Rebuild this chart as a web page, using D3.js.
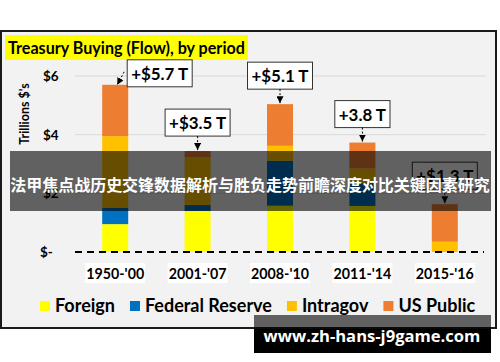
<!DOCTYPE html>
<html>
<head>
<meta charset="utf-8">
<script src="https://cdn.jsdelivr.net/npm/d3@7"></script>
<style>
  body { margin: 0; background: #fff; }
  text { font-family: Lato, "Open Sans", sans-serif; font-weight: bold; }
</style>
</head>
<body>
<script>
// data (trillions of $)
const periods = ["1950-'00", "2001-'07", "2008-'10", "2011-'14", "2015-'16"]
const foreign = [0.95, 1.40, 1.58, 1.57, 0]
const fedReserve = [0.55, 0.20, 1.53, 0.78, 0]
const intragov = [2.45, 1.64, 0.51, 0.50, 0.35]
const usPublic = [1.75, 0.20, 1.42, 0.88, 1.28]
const callouts = ["+$5.7 T", "+$3.5 T", "+$5.1 T", "+3.8 T", "+$1.3 T"]
const yTicks = [0, 2, 4, 6]
const seriesNames = ["Foreign", "Federal Reserve", "Intragov", "US Public"]
const colors = ["#ffff00", "#0070c0", "#ffc000", "#ed7d31"]

const W = 500, H = 362

const svg = d3.select("body").append("svg")
    .attr("width", W)
    .attr("height", H)

// fit a text node to a width by scaling its font-size
function fit(sel, w) {
    const n = sel.node()
    const fs = parseFloat(sel.style("font-size"))
    sel.style("font-size", (fs * w / n.getComputedTextLength()) + "px")
    return sel
}

// frame
svg.append("rect")
    .attr("x", 1).attr("y", 31).attr("width", 495).attr("height", 297)
    .attr("fill", "#f2f2f2").attr("stroke", "#1a1a1a").attr("stroke-width", 2)

svg.append("rect")
    .attr("x", 5).attr("y", 35).attr("width", 243).attr("height", 25)
    .attr("fill", "#ffff00")
fit(svg.append("text").attr("x", 8).attr("y", 54).style("font-size", "16px")
    .text("Treasury Buying (Flow), by period"), 237)

const y = d3.scaleLinear().domain([0, 6]).range([252, 76])
const x = d3.scaleBand().domain(periods).range([74, 486]).padding(0)
const bw = 26

// gridlines
svg.selectAll(".grid")
    .data(yTicks.filter(d => d > 0))
    .enter().append("line")
    .attr("x1", 75).attr("x2", 486)
    .attr("y1", d => y(d)).attr("y2", d => y(d))
    .attr("stroke", "#d9d9d9").attr("stroke-width", 1)

svg.selectAll(".ytick")
    .data(yTicks)
    .enter().append("text")
    .attr("x", d => d == 0 ? 40 : 43)
    .attr("y", d => y(d) + 5)
    .style("font-size", "13.5px")
    .text(d => d == 0 ? "$-" : "$" + d)

svg.append("text")
    .attr("transform", "translate(29,114) rotate(-90)")
    .attr("text-anchor", "middle")
    .style("font-size", "12.5px")
    .text("Trillions $'s")

// stacked bars
const rows = periods.map((p, i) => ({
    period: p, "Foreign": foreign[i], "Federal Reserve": fedReserve[i],
    "Intragov": intragov[i], "US Public": usPublic[i]
}))
const stack = d3.stack().keys(seriesNames)(rows)

svg.selectAll(".layer")
    .data(stack)
    .enter().append("g")
    .attr("fill", (d, i) => colors[i])
    .selectAll("rect")
    .data(d => d)
    .enter().append("rect")
    .attr("x", d => x(d.data.period) + x.bandwidth() / 2 - bw / 2)
    .attr("width", bw)
    .attr("y", d => y(d[1]))
    .attr("height", d => y(d[0]) - y(d[1]))

// zero line
svg.append("line")
    .attr("x1", 75).attr("x2", 484)
    .attr("y1", y(0)).attr("y2", y(0))
    .attr("stroke", "#000").attr("stroke-width", 2)
    .attr("stroke-dasharray", "7,5")

// category labels with white boxes
const cat = svg.selectAll(".cat")
    .data(periods)
    .enter().append("g")
    .attr("transform", d => "translate(" + (x(d) + x.bandwidth() / 2) + ",0)")
cat.append("rect")
    .attr("x", -30).attr("y", 263).attr("width", 60).attr("height", 20)
    .attr("fill", "#fff")
const catText = cat.append("text")
    .attr("y", 279)
    .attr("text-anchor", "middle")
    .style("font-size", "14.5px")
    .text(d => d)
const catSize = 14.5 * 58 / catText.node().getComputedTextLength()
catText.style("font-size", catSize + "px")

// callouts
svg.append("defs").append("marker")
    .attr("id", "arr")
    .attr("viewBox", "0 0 10 10")
    .attr("refX", 10).attr("refY", 5)
    .attr("markerWidth", 7).attr("markerHeight", 7)
    .attr("orient", "auto")
    .append("path").attr("d", "M0,0L10,5L0,10Z").attr("fill", "#000")

const totals = rows.map(r => seriesNames.reduce((s, k) => s + r[k], 0))

let calloutSize = null
callouts.forEach((lab, i) => {
    const cx = x(periods[i]) + x.bandwidth() / 2
    const top = y(totals[i])
    const g = svg.append("g")
    const t = g.append("text")
        .attr("text-anchor", "middle")
        .style("font-size", "17px")
        .text(lab)
    if (calloutSize == null) calloutSize = 17 * 57 / t.node().getComputedTextLength()
    t.style("font-size", calloutSize + "px")
    const tw = t.node().getComputedTextLength()
    const bwid = tw + 8, bh = 27
    let bx, by
    if (i == 0) {
        bx = cx + 12; by = top - 25
    } else {
        bx = cx - bwid / 2; by = top - 15 - bh
    }
    g.insert("rect", "text")
        .attr("x", bx).attr("y", by).attr("width", bwid).attr("height", bh)
        .attr("fill", "#fff").attr("stroke", "#333").attr("stroke-width", 1)
    t.attr("x", bx + bwid / 2).attr("y", by + 20)
    let x1 = bx + bwid / 2, y1 = by + bh, x2 = cx, y2 = top - 1
    if (i == 0) { x1 = bx - 3; y1 = by + 12; x2 = cx + 2; y2 = top }
    g.append("line")
        .attr("x1", x1).attr("y1", y1).attr("x2", x2).attr("y2", y2)
        .attr("stroke", "#000").attr("stroke-width", 1)
        .attr("stroke-dasharray", "2,2")
        .attr("marker-end", "url(#arr)")
})

// legend: font sized so that "Federal Reserve" takes ~127px
let lx = 40
let legSize = null
seriesNames.forEach((name, i) => {
    svg.append("rect")
        .attr("x", lx).attr("y", 301).attr("width", 10).attr("height", 10)
        .attr("fill", colors[i])
    const t = svg.append("text")
        .attr("x", lx + 15).attr("y", 312)
        .style("font-size", "15.5px")
        .text(name)
    if (legSize == null) {
        const probe = svg.append("text").style("font-size", "15.5px").text(seriesNames[1])
        legSize = 15.5 * 127 / probe.node().getComputedTextLength()
        probe.remove()
    }
    t.style("font-size", legSize + "px")
    lx += 15 + t.node().getComputedTextLength() + 15
})

// overlay banner
svg.append("rect")
    .attr("x", 10).attr("y", 151).attr("width", 481).attr("height", 60)
    .attr("fill", "#000").attr("opacity", 0.6)
fit(svg.append("text")
    .attr("x", 250).attr("y", 184)
    .attr("text-anchor", "middle")
    .attr("dominant-baseline", "central")
    .attr("fill", "#fff")
    .style("font-family", "'Noto Sans CJK SC', sans-serif")
    .style("font-size", "16px")
    .text("法甲焦点战历史交锋数据解析与胜负走势前瞻深度对比关键因素研究"), 480)

// watermark
svg.append("rect")
    .attr("x", 254).attr("y", 315).attr("width", 237).attr("height", 38)
    .attr("fill", "#000").attr("opacity", 0.6)
svg.append("rect")
    .attr("x", 254).attr("y", 329).attr("width", 237).attr("height", 24)
    .attr("fill", "#000")
fit(svg.append("text")
    .attr("x", 372).attr("y", 342)
    .attr("text-anchor", "middle")
    .attr("fill", "#fff")
    .style("font-family", "'Open Sans', sans-serif")
    .style("font-size", "15px")
    .text("www.zh-hans-j9game.com"), 217)
</script>
</body>
</html>
